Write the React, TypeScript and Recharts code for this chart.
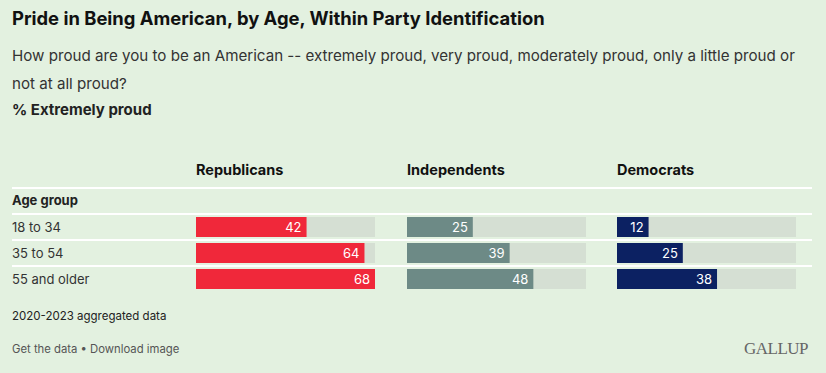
import React from "react";
import { Bar, BarChart, LabelList, XAxis, YAxis } from "recharts";

const ageGroups = ["18 to 34", "35 to 54", "55 and older"];
const parties = ["Republicans", "Independents", "Democrats"];
const republicans = [42, 64, 68];
const independents = [25, 39, 48];
const democrats = [12, 25, 38];

const partyColors = ["#f0283a", "#6d8a86", "#0c2162"];
const partyLeft = [196, 407, 617];
const seriesByParty = [republicans, independents, democrats];

const BG = "#e3f1e0";
const TRACK = "#d5dfd3";
const FONT = "Inter, 'Noto Sans', sans-serif";

function PartyBars({ values, color }: { values: number[]; color: string }) {
  const data = ageGroups.map((age, i) => ({ age, value: values[i] }));
  return (
    <BarChart
      width={179}
      height={78}
      data={data}
      layout="vertical"
      margin={{ top: 0, right: 0, bottom: 0, left: 0 }}
      barSize={20}
    >
      <XAxis type="number" domain={[0, 68]} hide />
      <YAxis type="category" dataKey="age" hide width={0} />
      <Bar dataKey="value" fill={color} background={{ fill: TRACK }} isAnimationActive={false}>
        <LabelList
          dataKey="value"
          position="insideRight"
          offset={5}
          fill="#ffffff"
          style={{ fontSize: 13, fontFamily: FONT }}
        />
      </Bar>
    </BarChart>
  );
}

const abs = (top: number, left: number, extra: React.CSSProperties = {}): React.CSSProperties => ({
  position: "absolute",
  top,
  left,
  whiteSpace: "nowrap",
  ...extra,
});

export default function App() {
  return (
    <div
      style={{
        position: "absolute",
        left: 0,
        top: 0,
        width: 826,
        height: 373,
        background: BG,
        fontFamily: FONT,
        color: "#111",
        overflow: "hidden",
      }}
    >
      <div style={abs(5, 12, { fontSize: 18.4, fontWeight: 700, lineHeight: "26px" })}>
        Pride in Being American, by Age, Within Party Identification
      </div>
      <div style={abs(42, 12, { fontSize: 15.15, lineHeight: "28px", color: "#333" })}>
        How proud are you to be an American -- extremely proud, very proud, moderately proud, only a little proud or
        <br />
        not at all proud?
      </div>
      <div style={abs(99, 12, { fontSize: 15, fontWeight: 700, lineHeight: "22px", color: "#222" })}>
        % Extremely proud
      </div>

      {parties.map((p, i) => (
        <div key={p} style={abs(160, partyLeft[i], { fontSize: 14.5, fontWeight: 700, lineHeight: "20px" })}>
          {p}
        </div>
      ))}

      {[187, 213, 239, 265].map((y) => (
        <div key={y} style={abs(y, 12, { width: 800, height: 2, background: "#ffffff" })} />
      ))}

      <div style={abs(190, 12, { fontSize: 13, fontWeight: 700, lineHeight: "20px", color: "#222" })}>
        Age group
      </div>
      {ageGroups.map((a, i) => (
        <div key={a} style={abs(217 + i * 26, 12, { fontSize: 13, lineHeight: "20px", color: "#333" })}>
          {a}
        </div>
      ))}

      {seriesByParty.map((vals, i) => (
        <div key={parties[i]} style={abs(214, partyLeft[i])}>
          <PartyBars values={vals} color={partyColors[i]} />
        </div>
      ))}

      <div style={abs(308, 12, { fontSize: 11.5, lineHeight: "16px", color: "#222" })}>
        2020-2023 aggregated data
      </div>
      <div style={abs(341, 12, { fontSize: 11.3, lineHeight: "16px", color: "#555" })}>
        Get the data • Download image
      </div>
      <div
        style={abs(338, 744, {
          fontSize: 17,
          lineHeight: "22px",
          color: "#666",
          fontFamily: "'Liberation Serif', 'DejaVu Serif', serif",
          letterSpacing: -0.5,
        })}
      >
        GALLUP
      </div>
    </div>
  );
}
